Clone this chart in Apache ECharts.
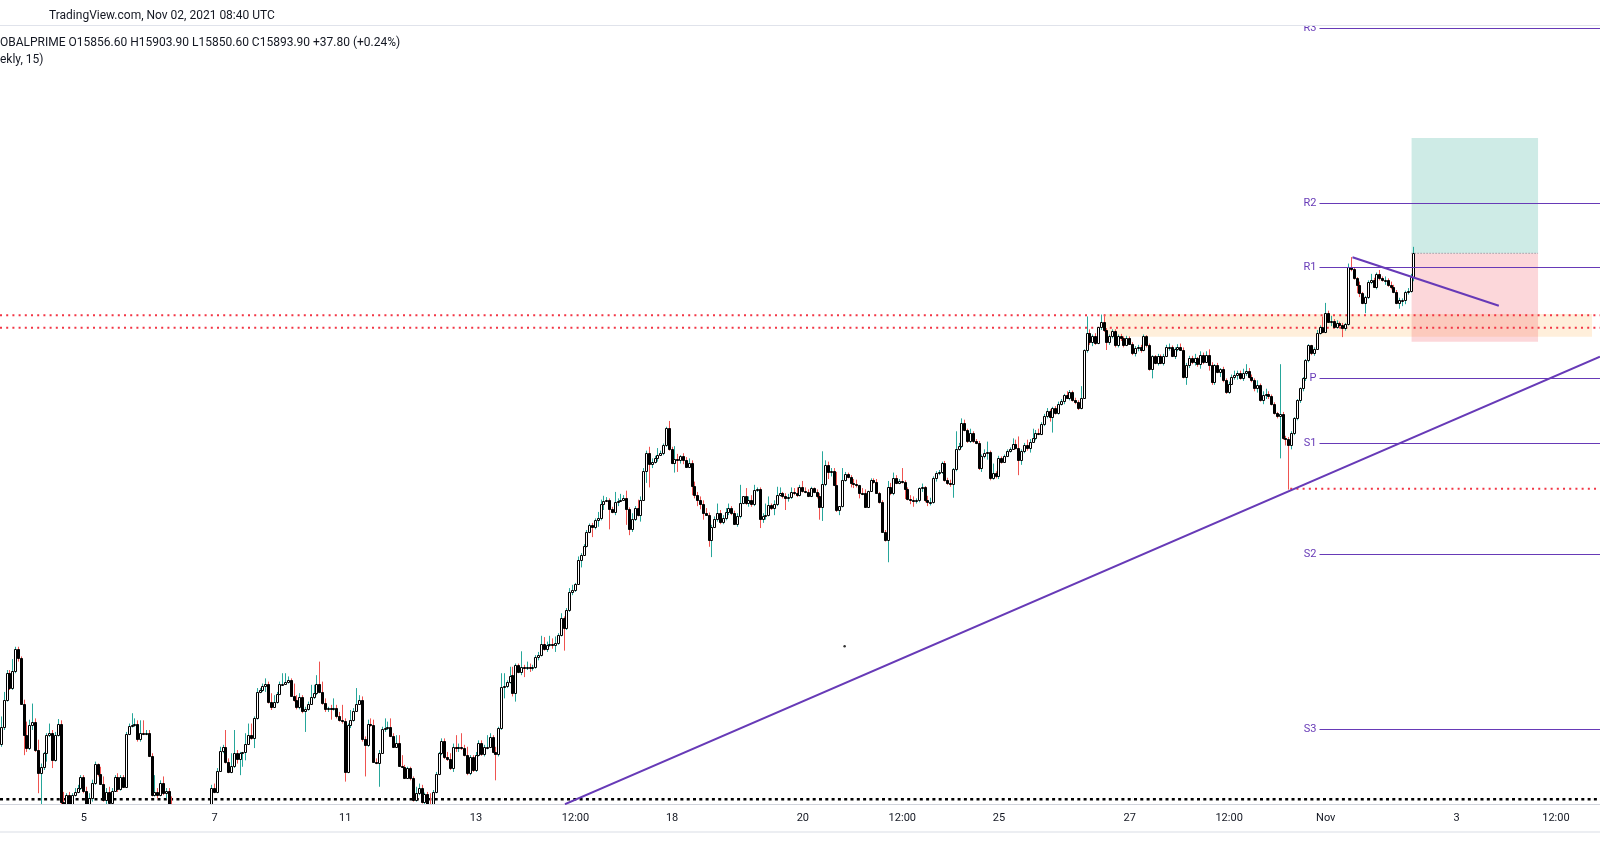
<!DOCTYPE html>
<html>
<head>
<meta charset="utf-8">
<script src="https://cdn.jsdelivr.net/npm/echarts/dist/echarts.min.js"></script>
<style>
html,body{margin:0;padding:0;background:#ffffff;}
#chart{width:1600px;height:868px;}
</style>
</head>
<body>
<div id="chart"></div>
<script>
// ---------- hourly candles, rows are [open, high, low, close] ----------
const oct01 = [[15133,15176,15129,15159],[15159,15214,15155,15202],[15202,15248,15199,15243],[15243,15248,15217,15220],[15220,15265,15217,15247],[15247,15284,15243,15280]];
const oct04 = [[15280,15284,15261,15266],[15266,15269,15194,15196],[15196,15202,15116,15147],[15147,15168,15121,15127],[15127,15171,15124,15163],[15163,15196,15155,15168],[15168,15173,15121,15124],[15124,15140,15057,15088],[15088,15103,15039,15098],[15098,15121,15093,15119],[15119,15150,15106,15147],[15147,15165,15144,15151],[15151,15155,15096,15108],[15108,15152,15106,15147],[15147,15172,15145,15165],[15165,15170,15036,15044],[15044,15059,15016,15026],[15026,15057,15021,15054],[15054,15059,15034,15039],[15039,15057,15036,15054],[15054,15065,15052,15059],[15059,15070,15057,15065],[15065,15085,15062,15082]];
const oct05 = [[15082,15085,15057,15061],[15061,15067,15031,15039],[15039,15057,15028,15049],[15049,15078,15044,15073],[15073,15106,15070,15102],[15102,15103,15083,15087],[15087,15098,15070,15072],[15072,15083,15044,15047],[15047,15065,15036,15059],[15059,15067,15039,15042],[15042,15065,15040,15061],[15061,15085,15059,15082],[15082,15088,15059,15063],[15063,15085,15061,15082],[15082,15085,15065,15067],[15067,15152,15065,15149],[15149,15165,15147,15161],[15161,15181,15159,15163],[15163,15173,15160,15165],[15165,15170,15137,15141],[15141,15170,15137,15151],[15151,15170,15147,15150],[15150,15155,15147,15151]];
const oct06 = [[15151,15155,15113,15115],[15115,15119,15052,15054],[15054,15085,15052,15059],[15059,15065,15049,15054],[15054,15077,15052,15073],[15073,15083,15054,15057],[15057,15065,15049,15061],[15061,15065,15036,15039],[15039,15052,15016,15021],[15021,15031,14995,15000],[15000,15016,14985,15010],[15010,15021,14974,14979],[14979,14995,14953,14964],[14964,14985,14943,14974],[14974,14990,14964,14985],[14985,15005,14974,14995],[14995,15016,14985,15005],[15005,15021,14995,15016],[15016,15031,15005,15021],[15021,15030,15010,15028],[15028,15038,15021,15036],[15036,15040,15026,15039],[15039,15070,15034,15065]];
const oct07 = [[15065,15072,15057,15059],[15059,15096,15057,15092],[15092,15129,15090,15123],[15123,15132,15119,15128],[15128,15155,15103,15106],[15106,15111,15088,15090],[15090,15119,15088,15099],[15099,15155,15096,15119],[15119,15124,15103,15110],[15110,15121,15085,15120],[15120,15121,15098,15121],[15121,15150,15108,15134],[15134,15165,15132,15147],[15147,15165,15140,15142],[15142,15176,15127,15173],[15173,15220,15171,15214],[15214,15220,15212,15217],[15217,15227,15214,15223],[15223,15235,15214,15227],[15227,15230,15196,15199],[15199,15212,15186,15190],[15190,15209,15189,15199],[15199,15214,15196,15211]];
const oct08 = [[15211,15230,15209,15226],[15226,15243,15225,15227],[15227,15243,15225,15229],[15229,15238,15227,15233],[15233,15235,15207,15208],[15208,15227,15199,15202],[15202,15209,15187,15190],[15190,15212,15187,15206],[15206,15209,15181,15185],[15185,15191,15152,15187],[15187,15199,15185,15196],[15196,15225,15194,15206],[15206,15225,15203,15212],[15212,15240,15209,15227],[15227,15261,15212,15214],[15214,15230,15194,15197],[15197,15204,15183,15187],[15187,15191,15183,15189],[15189,15194,15171,15187],[15187,15204,15185,15189],[15189,15194,15173,15176],[15176,15183,15168,15171],[15171,15194,15165,15169]];
const oct11 = [[15169,15173,15075,15090],[15090,15165,15088,15163],[15163,15186,15158,15171],[15171,15189,15168,15185],[15185,15220,15183,15196],[15196,15209,15194,15202],[15202,15207,15137,15141],[15141,15145,15083,15132],[15132,15171,15129,15164],[15164,15173,15160,15163],[15163,15171,15104,15106],[15106,15111,15102,15104],[15104,15124,15067,15120],[15120,15160,15119,15156],[15156,15173,15152,15158],[15158,15168,15155,15160],[15160,15173,15144,15146],[15146,15150,15127,15129],[15129,15147,15127,15135],[15135,15147,15098,15099],[15099,15116,15096,15097],[15097,15101,15079,15080],[15080,15098,15079,15096]];
const oct12 = [[15096,15098,15077,15080],[15080,15083,15044,15046],[15046,15067,15044,15057],[15057,15072,15054,15065],[15065,15070,15041,15044],[15044,15058,15039,15056],[15056,15059,15034,15039],[15039,15057,15028,15036],[15036,15062,15034,15059],[15059,15090,15057,15087],[15087,15121,15085,15119],[15119,15142,15116,15138],[15138,15142,15110,15113],[15113,15121,15107,15110],[15110,15119,15093,15096],[15096,15134,15090,15129],[15129,15147,15121,15127],[15127,15134,15121,15129],[15129,15150,15124,15127],[15127,15132,15114,15116],[15116,15129,15085,15088],[15088,15116,15085,15113],[15113,15116,15090,15093]];
const oct13 = [[15093,15121,15090,15116],[15116,15139,15114,15135],[15135,15139,15115,15118],[15118,15132,15114,15128],[15128,15147,15125,15129],[15129,15150,15127,15144],[15144,15147,15119,15121],[15121,15129,15077,15118],[15118,15160,15114,15158],[15158,15243,15155,15222],[15222,15243,15204,15223],[15223,15232,15220,15230],[15230,15253,15227,15239],[15240,15253,15207,15213],[15213,15258,15199,15256],[15256,15258,15243,15245],[15245,15277,15240,15253],[15253,15256,15237,15251],[15251,15261,15248,15253],[15253,15258,15245,15251],[15251,15256,15247,15253],[15253,15271,15250,15268],[15268,15276,15263,15272]];
const oct14 = [[15272,15301,15269,15288],[15288,15299,15278,15280],[15280,15292,15276,15286],[15286,15301,15284,15288],[15288,15297,15281,15286],[15286,15300,15276,15290],[15290,15305,15287,15302],[15302,15336,15300,15329],[15329,15331,15278,15313],[15313,15344,15310,15341],[15341,15375,15338,15369],[15369,15380,15364,15372],[15372,15383,15369,15381],[15381,15424,15380,15419],[15419,15429,15407,15427],[15427,15443,15425,15440],[15440,15465,15438,15462],[15462,15475,15460,15473],[15473,15476,15454,15469],[15469,15483,15466,15480],[15480,15493,15470,15483],[15483,15512,15480,15506],[15506,15518,15496,15510]];
const oct15 = [[15510,15516,15509,15511],[15511,15514,15466,15497],[15497,15501,15491,15493],[15493,15524,15488,15509],[15509,15514,15502,15510],[15510,15521,15509,15512],[15512,15519,15511,15515],[15515,15526,15473,15497],[15497,15500,15457,15466],[15466,15491,15462,15482],[15482,15502,15479,15499],[15499,15512,15486,15488],[15488,15517,15478,15512],[15512,15561,15510,15556],[15556,15588,15538,15584],[15584,15594,15531,15568],[15568,15576,15561,15571],[15571,15580,15568,15576],[15576,15592,15571,15582],[15582,15588,15580,15584],[15584,15599,15581,15596],[15596,15625,15594,15623],[15623,15634,15588,15590]];
const oct18 = [[15590,15594,15567,15569],[15569,15595,15554,15575],[15575,15583,15555,15574],[15574,15581,15568,15579],[15579,15584,15567,15574],[15574,15578,15561,15563],[15563,15576,15561,15569],[15569,15573,15519,15533],[15533,15540,15514,15520],[15520,15524,15502,15511],[15511,15517,15497,15505],[15505,15511,15481,15492],[15492,15499,15488,15488],[15488,15492,15439,15449],[15449,15473,15423,15470],[15470,15486,15468,15482],[15482,15506,15478,15492],[15492,15496,15474,15478],[15478,15488,15474,15483],[15483,15499,15480,15493],[15493,15506,15488,15499],[15499,15502,15488,15491],[15491,15495,15473,15475]];
const oct19 = [[15475,15491,15470,15487],[15487,15535,15483,15507],[15507,15517,15505,15517],[15517,15530,15504,15507],[15507,15517,15501,15512],[15512,15519,15501,15505],[15505,15535,15502,15527],[15527,15531,15524,15529],[15529,15531,15468,15482],[15482,15491,15476,15487],[15487,15506,15481,15488],[15488,15517,15486,15503],[15503,15506,15496,15499],[15499,15511,15488,15505],[15505,15532,15502,15520],[15520,15531,15517,15522],[15522,15524,15514,15517],[15517,15522,15496,15514],[15514,15521,15509,15516],[15516,15531,15513,15524],[15524,15530,15519,15522],[15522,15531,15516,15519],[15519,15535,15517,15531]];
const oct20 = [[15531,15541,15523,15526],[15526,15531,15522,15524],[15524,15528,15516,15517],[15517,15532,15516,15530],[15530,15531,15522,15524],[15524,15528,15514,15517],[15517,15522,15481,15500],[15500,15587,15479,15536],[15536,15573,15533,15566],[15566,15571,15544,15555],[15555,15561,15548,15557],[15557,15561,15533,15535],[15535,15555,15493,15496],[15496,15502,15488,15502],[15502,15561,15500,15542],[15542,15555,15540,15552],[15552,15554,15545,15547],[15547,15550,15531,15538],[15538,15544,15530,15537],[15537,15543,15531,15534],[15534,15535,15514,15523],[15523,15530,15519,15522],[15522,15528,15500,15501]];
const oct21 = [[15501,15526,15499,15526],[15526,15545,15524,15542],[15542,15545,15537,15540],[15540,15544,15522,15522],[15522,15524,15506,15508],[15508,15511,15461,15462],[15462,15465,15447,15449],[15449,15541,15415,15532],[15532,15538,15519,15522],[15522,15554,15519,15546],[15546,15550,15536,15538],[15538,15544,15536,15541],[15541,15561,15537,15540],[15540,15542,15513,15528],[15528,15531,15511,15513],[15513,15519,15505,15511],[15511,15517,15501,15510],[15510,15514,15506,15511],[15511,15531,15508,15530],[15530,15537,15524,15531],[15531,15533,15508,15512],[15512,15518,15502,15508],[15508,15515,15503,15508]];
const oct22 = [[15508,15548,15506,15545],[15545,15556,15540,15554],[15554,15558,15550,15555],[15555,15571,15552,15569],[15569,15572,15540,15543],[15543,15546,15535,15538],[15538,15543,15532,15536],[15536,15561,15515,15559],[15559,15618,15556,15590],[15590,15600,15588,15595],[15595,15638,15592,15631],[15631,15636,15618,15620],[15620,15622,15600,15603],[15603,15622,15600,15615],[15615,15618,15600,15603],[15603,15606,15598,15600],[15600,15603,15558,15561],[15561,15582,15555,15580],[15580,15590,15576,15584],[15584,15602,15574,15586],[15586,15588,15542,15545],[15545,15568,15543,15554],[15554,15556,15545,15548]];
const oct25 = [[15548,15580,15544,15577],[15577,15579,15568,15571],[15571,15582,15569,15580],[15580,15590,15578,15587],[15587,15593,15585,15591],[15591,15607,15589,15599],[15599,15605,15590,15592],[15592,15610,15550,15574],[15574,15590,15566,15587],[15587,15600,15584,15597],[15597,15605,15588,15592],[15592,15606,15585,15602],[15602,15622,15600,15607],[15607,15620,15604,15615],[15615,15622,15612,15614],[15614,15632,15612,15629],[15629,15645,15626,15641],[15641,15654,15638,15650],[15650,15652,15633,15640],[15640,15656,15616,15654],[15654,15657,15644,15647],[15647,15664,15644,15661],[15661,15668,15658,15665]];
const oct26 = [[15665,15676,15660,15674],[15674,15680,15668,15669],[15669,15682,15666,15679],[15679,15681,15664,15667],[15667,15670,15660,15663],[15663,15666,15651,15654],[15654,15688,15652,15669],[15669,15745,15668,15744],[15744,15796,15740,15770],[15770,15776,15752,15757],[15757,15768,15750,15766],[15766,15770,15752,15755],[15755,15780,15753,15779],[15779,15799,15775,15788],[15788,15799,15772,15775],[15775,15778,15744,15757],[15757,15768,15752,15766],[15766,15776,15762,15774],[15774,15776,15748,15752],[15752,15768,15748,15765],[15765,15769,15758,15762],[15762,15765,15748,15752],[15752,15766,15750,15763]];
const oct27 = [[15763,15765,15752,15754],[15754,15756,15736,15739],[15739,15750,15734,15747],[15747,15752,15742,15748],[15748,15752,15740,15744],[15744,15768,15742,15765],[15765,15767,15748,15752],[15752,15754,15712,15715],[15715,15736,15700,15734],[15734,15736,15722,15724],[15724,15738,15720,15734],[15734,15737,15722,15724],[15724,15738,15720,15735],[15735,15752,15733,15748],[15748,15754,15743,15749],[15749,15751,15733,15735],[15735,15748,15730,15745],[15745,15753,15742,15749],[15749,15754,15743,15744],[15744,15748,15700,15702],[15702,15724,15690,15721],[15721,15735,15716,15731],[15731,15735,15722,15726]];
const oct28 = [[15726,15738,15720,15731],[15731,15733,15718,15723],[15723,15742,15715,15736],[15736,15740,15722,15726],[15726,15742,15724,15736],[15736,15745,15712,15721],[15721,15725,15690,15695],[15695,15722,15690,15720],[15720,15724,15708,15710],[15710,15716,15702,15714],[15714,15718,15694,15697],[15697,15700,15676,15679],[15679,15695,15676,15692],[15692,15706,15690,15702],[15702,15712,15698,15705],[15705,15712,15698,15708],[15708,15712,15698,15700],[15700,15715,15696,15709],[15709,15722,15704,15712],[15712,15716,15700,15702],[15702,15706,15694,15697],[15697,15700,15680,15685],[15685,15697,15678,15690]];
const oct29 = [[15690,15692,15664,15667],[15667,15680,15660,15674],[15674,15684,15668,15676],[15676,15680,15668,15672],[15672,15675,15658,15661],[15661,15663,15644,15646],[15646,15648,15638,15642],[15642,15722,15576,15645],[15645,15648,15605,15607],[15607,15611,15596,15606],[15606,15609,15527.6,15597],[15597,15618,15590,15615],[15615,15640,15612,15638],[15638,15668,15635,15666],[15666,15686,15662,15685],[15685,15702,15680,15700],[15700,15730,15696,15728],[15728,15753,15725,15751],[15751,15752,15736,15739],[15739,15748,15735,15746],[15746,15775,15744,15771],[15771,15782,15768,15780],[15780,15796,15770,15772]];
const nov01 = [[15772,15817,15770,15802],[15802,15805,15786,15788],[15788,15797,15781,15789],[15789,15792,15778,15780],[15780,15790,15777,15786],[15786,15788,15779,15782],[15782,15786,15764,15778],[15778,15786,15774,15784],[15784,15878,15782,15872],[15872,15888,15866,15869],[15869,15871,15853,15855],[15855,15857,15832,15845],[15845,15850,15826,15832],[15832,15834,15815,15817],[15817,15828,15801,15826],[15826,15852,15823,15850],[15850,15862,15846,15853],[15853,15856,15840,15842],[15842,15864,15838,15862],[15862,15868,15852,15855],[15855,15858,15850,15852],[15852,15858,15845,15853],[15853,15855,15842,15845]];
const nov02 = [[15845,15850,15838,15842],[15842,15845,15832,15834],[15834,15837,15815,15817],[15817,15825,15808,15821],[15821,15824,15812,15822],[15822,15836,15815,15834],[15834,15840,15830,15836],[15836,15862,15833,15857],[15856.6,15903.9,15850.6,15893.9]];

// ---------- time axis ----------
const tradingDays = ['2021-10-01','2021-10-04','2021-10-05','2021-10-06','2021-10-07','2021-10-08','2021-10-11','2021-10-12','2021-10-13','2021-10-14','2021-10-15','2021-10-18','2021-10-19','2021-10-20','2021-10-21','2021-10-22','2021-10-25','2021-10-26','2021-10-27','2021-10-28','2021-10-29','2021-11-01','2021-11-02','2021-11-03','2021-11-04','2021-11-05'];
const firstBarHour = 17;   // first visible bar on Oct 01
const lastSlotHour = 4;    // right edge reaches Nov 05 04:00 (empty future)
const sessionLastHour = 22;
const tickLabels = [['2021-10-05 00:00','5'],['2021-10-07 00:00','7'],['2021-10-11 00:00','11'],['2021-10-13 00:00','13'],['2021-10-14 12:00','12:00'],['2021-10-18 00:00','18'],['2021-10-20 00:00','20'],['2021-10-21 12:00','12:00'],['2021-10-25 00:00','25'],['2021-10-27 00:00','27'],['2021-10-28 12:00','12:00'],['2021-11-01 00:00','Nov'],['2021-11-03 00:00','3'],['2021-11-04 12:00','12:00']];

// ---------- indicator & drawings (bar index, price) ----------
const pivotLevels = [['R3',16243.3],['R2',15971.5],['R1',15871.8],['P',15699.7],['S1',15600.0],['S2',15427.9],['S3',15156.1]];
const pivotFromBar = 463.8;
const risingTrend = [[198.3,15040.0],[562.5,15733.6]];
const fallingTrend = [[475.4,15887.7],[526.9,15812.7]];
const priorHighLines = [15798.0,15778.6];
const weekLowLine = [453.5,15529.0];
const floorLine = 15047.6;
const supplyZone = [[388.2,15799.8],[559.7,15764.6]];
const longPosition = [496.2,540.7,15893.9,16072.6,15756.9]; // from, to, entry, target, stop
const strayDot = [296.7,15285];

const headerLine1 = 'TradingView.com, Nov 02, 2021 08:40 UTC';
const headerLine2 = 'OBALPRIME O15856.60 H15903.90 L15850.60 C15893.90 +37.80 (+0.24%)';
const headerLine3 = 'ekly, 15)';

// ---------- build ----------
const dayBars = [oct01,oct04,oct05,oct06,oct07,oct08,oct11,oct12,oct13,oct14,oct15,oct18,oct19,oct20,oct21,oct22,oct25,oct26,oct27,oct28,oct29,nov01,nov02];
const bars = [].concat(...dayBars);
const categories = [];
tradingDays.forEach((d, k) => {
  const from = k === 0 ? firstBarHour : 0;
  const to = k === tradingDays.length - 1 ? lastSlotHour : sessionLastHour;
  for (let h = from; h <= to; h++) categories.push(d + ' ' + String(h).padStart(2,'0') + ':00');
});
const tickMap = Object.fromEntries(tickLabels);
const xEnd = categories.length - 0.5;

const PURPLE = '#673ab7', RED = '#f23645', UPW = '#26a69a', DNW = '#ef5350';

function renderCandle(params, api) {
  const i = api.value(0), o = api.value(1), h = api.value(2), l = api.value(3), c = api.value(4);
  const pO = api.coord([i, o]), pC = api.coord([i, c]), pH = api.coord([i, h]), pL = api.coord([i, l]);
  const L = Math.floor(pO[0]);
  const up = c >= o;
  const yT = Math.round(Math.min(pO[1], pC[1])), yB = Math.round(Math.max(pO[1], pC[1]));
  return {
    type: 'group',
    children: [
      { type: 'line', shape: { x1: L + 0.5, y1: pH[1], x2: L + 0.5, y2: pL[1] }, style: { stroke: up ? UPW : DNW, lineWidth: 1 } },
      { type: 'rect', shape: { x: L - 0.5, y: yT + 0.5, width: 2, height: Math.max(yB - yT, 1) }, style: { fill: up ? '#ffffff' : '#000000', stroke: '#000000', lineWidth: 1 } }
    ]
  };
}

function hLine(x1, x2, price, color, width, dash, z) {
  return { type: 'line', xAxisIndex: 1, yAxisIndex: 0, data: [[x1, price], [x2, price]], symbol: 'none', silent: true, animation: false, z: z, lineStyle: { color: color, width: width, type: dash } };
}

const series = [
  hLine(-0.5, xEnd, floorLine, '#000000', 2.5, [3, 3.3], 1),
  hLine(-0.5, xEnd, priorHighLines[0], RED, 2, [2, 4.2], 1),
  hLine(-0.5, xEnd, priorHighLines[1], RED, 2, [2, 4.2], 1),
  hLine(weekLowLine[0], xEnd, weekLowLine[1], RED, 2, [2, 4.2], 1),
  {
    type: 'custom', name: 'candles', xAxisIndex: 0, yAxisIndex: 0, clip: true, silent: true, animation: false, z: 3,
    renderItem: renderCandle,
    encode: { x: 0, y: [1, 2, 3, 4] },
    data: bars.map((r, i) => [i, r[0], r[1], r[2], r[3]])
  },
  {
    type: 'line', xAxisIndex: 1, yAxisIndex: 0, data: [[-5, 15000]], symbol: 'none', silent: true, animation: false, z: 4,
    lineStyle: { width: 0 },
    markArea: {
      silent: true, animation: false, label: { show: false },
      data: [
        [{ coord: supplyZone[0], itemStyle: { color: 'rgba(255,160,40,0.17)' } }, { coord: supplyZone[1] }],
        [{ coord: [longPosition[0], longPosition[3]], itemStyle: { color: 'rgba(8,153,129,0.2)' } }, { coord: [longPosition[1], longPosition[2]] }],
        [{ coord: [longPosition[0], longPosition[2]], itemStyle: { color: 'rgba(242,54,69,0.2)' } }, { coord: [longPosition[1], longPosition[4]] }]
      ]
    }
  },
  hLine(longPosition[0], longPosition[1], longPosition[2], '#787b86', 1, [1, 2], 5),
  {
    type: 'line', xAxisIndex: 1, yAxisIndex: 0, data: risingTrend, symbol: 'none', silent: true, animation: false, z: 6,
    lineStyle: { color: PURPLE, width: 2 },
    markLine: {
      silent: true, animation: false, symbol: ['none', 'none'],
      lineStyle: { color: PURPLE, width: 1, type: 'solid' },
      label: { show: true, position: 'start', formatter: '{b}', color: PURPLE, fontSize: 11, fontFamily: 'Roboto', distance: 3 },
      data: pivotLevels.map(([n, v]) => [{ name: n, coord: [pivotFromBar, v] }, { coord: [xEnd, v] }])
    }
  },
  { type: 'line', xAxisIndex: 1, yAxisIndex: 0, data: fallingTrend, symbol: 'none', silent: true, animation: false, z: 6, lineStyle: { color: PURPLE, width: 2 } },
  { type: 'scatter', xAxisIndex: 1, yAxisIndex: 0, data: [strayDot], symbolSize: 2.5, silent: true, animation: false, z: 6, itemStyle: { color: '#000000' } }
];

const chart = echarts.init(document.getElementById('chart'), null, { renderer: 'canvas' });
chart.setOption({
  backgroundColor: '#ffffff',
  animation: false,
  grid: { left: 0, right: 0, top: 26, bottom: 64, containLabel: false, outerBoundsMode: 'none' },
  xAxis: [
    {
      type: 'category', data: categories, boundaryGap: true,
      axisLine: { show: true, lineStyle: { color: '#d1d4dc', width: 1 } },
      axisTick: { show: false },
      splitLine: { show: false },
      axisLabel: {
        interval: (idx, val) => tickMap[val] !== undefined,
        formatter: (val) => tickMap[val] || '',
        color: '#131722', fontSize: 11, fontFamily: 'Roboto', margin: 9, hideOverlap: false
      }
    },
    { type: 'value', min: -0.5, max: xEnd, show: false }
  ],
  yAxis: [{ type: 'value', min: 15040.3, max: 16246.2, show: false, splitLine: { show: false } }],
  series: series,
  graphic: [
    { type: 'rect', z: 100, shape: { x: 0, y: 0, width: 1600, height: 26 }, style: { fill: '#ffffff' } },
    { type: 'rect', z: 101, shape: { x: 0, y: 25, width: 1600, height: 1 }, style: { fill: '#e0e3eb' } },
    { type: 'rect', z: 101, shape: { x: 0, y: 831, width: 1600, height: 2 }, style: { fill: '#eceef2' } },
    { type: 'text', z: 102, x: 49, y: 15.5, style: { text: headerLine1, fill: '#131722', fontSize: 12, fontFamily: 'Roboto', verticalAlign: 'middle' } },
    { type: 'text', z: 102, x: 0, y: 43, style: { text: headerLine2, fill: '#131722', fontSize: 12, fontFamily: 'Roboto', verticalAlign: 'middle' } },
    { type: 'text', z: 102, x: 0, y: 59.5, style: { text: headerLine3, fill: '#131722', fontSize: 12, fontFamily: 'Roboto', verticalAlign: 'middle' } }
  ]
});
</script>
</body>
</html>
